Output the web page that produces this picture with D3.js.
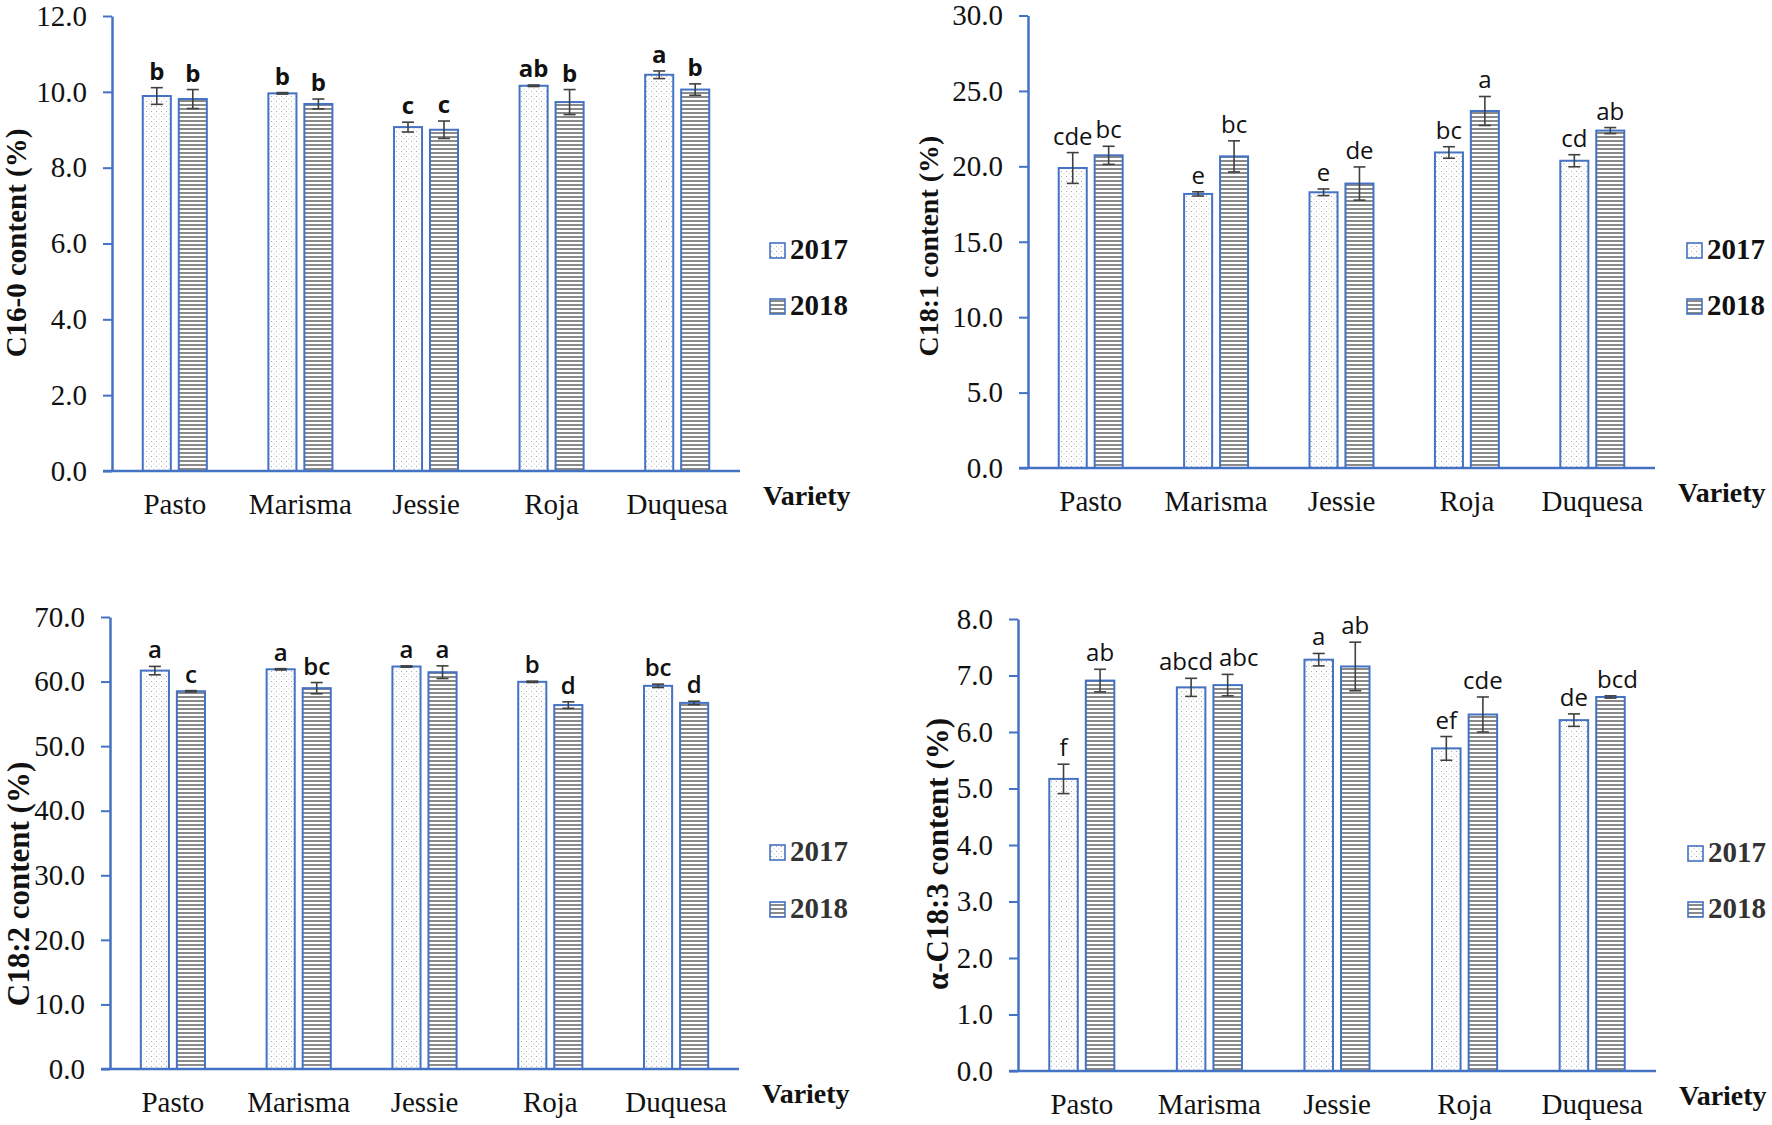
<!DOCTYPE html>
<html>
<head>
<meta charset="utf-8">
<script src="https://cdn.jsdelivr.net/npm/d3@7"></script>
<style>
  body { margin: 0; background: #fff; }
  svg { display: block; }
</style>
</head>
<body>
<svg id="chart" width="1772" height="1125"></svg>
<script>
// ---------------- DATA ----------------
const categories = ["Pasto", "Marisma", "Jessie", "Roja", "Duquesa"];
const years = ["2017", "2018"];

// C16-0
const c160_2017 = [9.89, 9.96, 9.07, 10.16, 10.45];
const c160_2017_err = [0.22, 0.02, 0.13, 0.02, 0.10];
const c160_2018 = [9.81, 9.68, 9.00, 9.73, 10.06];
const c160_2018_err = [0.25, 0.13, 0.23, 0.33, 0.15];
const c160_2017_let = ["b", "b", "c", "ab", "a"];
const c160_2018_let = ["b", "b", "c", "b", "b"];
const c160_ticks = [0, 2, 4, 6, 8, 10, 12];

// C18:1
const c181_2017 = [19.89, 18.17, 18.28, 20.92, 20.37];
const c181_2017_err = [1.02, 0.14, 0.22, 0.38, 0.40];
const c181_2018 = [20.73, 20.66, 18.86, 23.67, 22.37];
const c181_2018_err = [0.60, 1.03, 1.10, 0.96, 0.20];
const c181_2017_let = ["cde", "e", "e", "bc", "cd"];
const c181_2018_let = ["bc", "bc", "de", "a", "ab"];
const c181_ticks = [0, 5, 10, 15, 20, 25, 30];

// C18:2
const c182_2017 = [61.7, 61.9, 62.33, 59.96, 59.34];
const c182_2017_err = [0.65, 0.10, 0.10, 0.10, 0.26];
const c182_2018 = [58.5, 58.98, 61.45, 56.36, 56.7];
const c182_2018_err = [0.10, 0.87, 0.98, 0.50, 0.26];
const c182_2017_let = ["a", "a", "a", "b", "bc"];
const c182_2018_let = ["c", "bc", "a", "d", "d"];
const c182_ticks = [0, 10, 20, 30, 40, 50, 60, 70];

// alpha-C18:3
const c183_2017 = [5.17, 6.79, 7.28, 5.71, 6.21];
const c183_2017_err = [0.26, 0.16, 0.11, 0.21, 0.11];
const c183_2018 = [6.91, 6.83, 7.16, 6.31, 6.62];
const c183_2018_err = [0.20, 0.19, 0.43, 0.31, 0.02];
const c183_2017_let = ["f", "abcd", "a", "ef", "de"];
const c183_2018_let = ["ab", "abc", "ab", "cde", "bcd"];
const c183_ticks = [0, 1, 2, 3, 4, 5, 6, 7, 8];

// ---------------- LAYOUT ----------------
const ZERO = [0, 0, 0, 0, 0];
const panels = [
  { title: "C16-0 content (%)", v: [c160_2017, c160_2018], e: [c160_2017_err, c160_2018_err],
    l: [c160_2017_let, c160_2018_let], ticks: c160_ticks, ymax: 12,
    x0: 112, x1: 740, yTop: 16, yBot: 471, titleX: 26, titleY: 243, titleSize: 29,
    legX: 770, leg1: 259, leg2: 315, letW: "bold", legColor: "#111", nudge: [ZERO, ZERO] },
  { title: "C18:1 content (%)", v: [c181_2017, c181_2018], e: [c181_2017_err, c181_2018_err],
    l: [c181_2017_let, c181_2018_let], ticks: c181_ticks, ymax: 30,
    x0: 1028, x1: 1655, yTop: 15.5, yBot: 468, titleX: 938, titleY: 246, titleSize: 28,
    legX: 1687, leg1: 259, leg2: 315, letW: "normal", legColor: "#111", nudge: [ZERO, ZERO] },
  { title: "C18:2 content (%)", v: [c182_2017, c182_2018], e: [c182_2017_err, c182_2018_err],
    l: [c182_2017_let, c182_2018_let], ticks: c182_ticks, ymax: 70,
    x0: 110, x1: 739, yTop: 617, yBot: 1069, titleX: 29, titleY: 884, titleSize: 31,
    legX: 770, leg1: 861, leg2: 918, letW: "600", legColor: "#333", nudge: [ZERO, ZERO] },
  { title: "α-C18:3 content (%)", v: [c183_2017, c183_2018], e: [c183_2017_err, c183_2018_err],
    l: [c183_2017_let, c183_2018_let], ticks: c183_ticks, ymax: 8,
    x0: 1018, x1: 1656, yTop: 619, yBot: 1071, titleX: 948, titleY: 854, titleSize: 31,
    legX: 1688, leg1: 862, leg2: 918, letW: "normal", legColor: "#333",
    nudge: [[0, -5, 0, 0, 0], [0, 11, 0, 0, 7]] }
];

const BLUE = "#4472C4";
const SERIF = "'Liberation Serif', 'Times New Roman', serif";
const SANS = "'Open Sans', 'Noto Sans', sans-serif";

const svg = d3.select("#chart");
const defs = svg.append("defs");

// dotted pattern
const pd = defs.append("pattern").attr("id", "dots").attr("patternUnits", "userSpaceOnUse")
  .attr("width", 5).attr("height", 5);
pd.append("rect").attr("width", 5).attr("height", 5).attr("fill", "#fff");
pd.append("rect").attr("x", 1).attr("y", 1).attr("width", 1).attr("height", 1).attr("fill", "#a8a8a8");
pd.append("rect").attr("x", 3.5).attr("y", 3.5).attr("width", 1).attr("height", 1).attr("fill", "#c4c4c4");

// striped pattern
const ps = defs.append("pattern").attr("id", "stripes").attr("patternUnits", "userSpaceOnUse")
  .attr("width", 4).attr("height", 4);
ps.append("rect").attr("width", 4).attr("height", 4).attr("fill", "#fff");
ps.append("rect").attr("y", 0).attr("width", 4).attr("height", 2).attr("fill", "#8a8a8a");

const fills = ["url(#dots)", "url(#stripes)"];

panels.forEach(p => {
  const g = svg.append("g");

  const x = d3.scaleBand().domain(categories).range([p.x0, p.x1])
    .paddingInner(0.49).paddingOuter(0.245);
  const xi = d3.scaleBand().domain(years).range([0, x.bandwidth()]).paddingInner(0.22);
  const y = d3.scaleLinear().domain([0, p.ymax]).range([p.yBot, p.yTop]);

  years.forEach((yr, si) => {
    const vals = p.v[si], errs = p.e[si], lets = p.l[si];
    g.append("g").selectAll("rect").data(categories).join("rect")
      .attr("x", (c) => x(c) + xi(yr))
      .attr("y", (c, i) => y(vals[i]))
      .attr("width", xi.bandwidth())
      .attr("height", (c, i) => y(0) - y(vals[i]))
      .attr("fill", fills[si])
      .attr("stroke", BLUE).attr("stroke-width", 2);

    const eg = g.append("g").attr("stroke", "#404040").attr("stroke-width", 1.6);
    categories.forEach((c, i) => {
      const cx = x(c) + xi(yr) + xi.bandwidth() / 2;
      const hi = y(vals[i] + errs[i]), lo = y(vals[i] - errs[i]);
      eg.append("line").attr("x1", cx).attr("x2", cx).attr("y1", hi).attr("y2", lo);
      eg.append("line").attr("x1", cx - 6).attr("x2", cx + 6).attr("y1", hi).attr("y2", hi);
      eg.append("line").attr("x1", cx - 6).attr("x2", cx + 6).attr("y1", lo).attr("y2", lo);
      g.append("text")
        .attr("x", cx + p.nudge[si][i]).attr("y", hi - 8)
        .attr("text-anchor", "middle")
        .attr("font-family", SANS).attr("font-size", 24).attr("font-weight", p.letW)
        .attr("fill", "#111")
        .text(lets[i]);
    });
  });

  // y axis
  const ya = g.append("g").attr("transform", `translate(${p.x0},0)`)
    .call(d3.axisLeft(y).tickValues(p.ticks).tickSize(9).tickSizeOuter(0)
      .tickPadding(16).tickFormat(d3.format(".1f")));
  ya.select(".domain").attr("stroke", BLUE).attr("stroke-width", 2.5);
  ya.selectAll(".tick line").attr("stroke", BLUE).attr("stroke-width", 2);
  ya.selectAll(".tick text").attr("font-family", SERIF).attr("font-size", 29).attr("fill", "#111");

  // x axis
  const xa = g.append("g").attr("transform", `translate(0,${p.yBot})`)
    .call(d3.axisBottom(x).tickSize(0).tickSizeOuter(0).tickPadding(22));
  xa.select(".domain").remove();
  xa.selectAll(".tick text").attr("font-family", SERIF).attr("font-size", 29).attr("fill", "#111");
  g.append("line")
    .attr("x1", x.range()[0] - 9).attr("x2", x.range()[1])
    .attr("y1", p.yBot).attr("y2", p.yBot)
    .attr("stroke", BLUE).attr("stroke-width", 2.5);

  // Variety
  g.append("text").attr("x", p.x1 + 23).attr("y", p.yBot + 34)
    .attr("font-family", SERIF).attr("font-size", 28).attr("font-weight", "bold")
    .attr("fill", "#111").text("Variety");

  // y title
  g.append("text")
    .attr("transform", `translate(${p.titleX},${p.titleY}) rotate(-90)`)
    .attr("text-anchor", "middle")
    .attr("font-family", SERIF).attr("font-size", p.titleSize).attr("font-weight", "bold")
    .attr("fill", "#111").text(p.title);

  // legend
  [p.leg1, p.leg2].forEach((by, si) => {
    g.append("rect").attr("x", p.legX).attr("y", by - 16).attr("width", 15).attr("height", 15)
      .attr("fill", fills[si]).attr("stroke", BLUE).attr("stroke-width", 1.6);
    g.append("text").attr("x", p.legX + 20).attr("y", by)
      .attr("font-family", SERIF).attr("font-size", 29).attr("font-weight", "bold")
      .attr("fill", p.legColor).text(years[si]);
  });
});
</script>
</body>
</html>
